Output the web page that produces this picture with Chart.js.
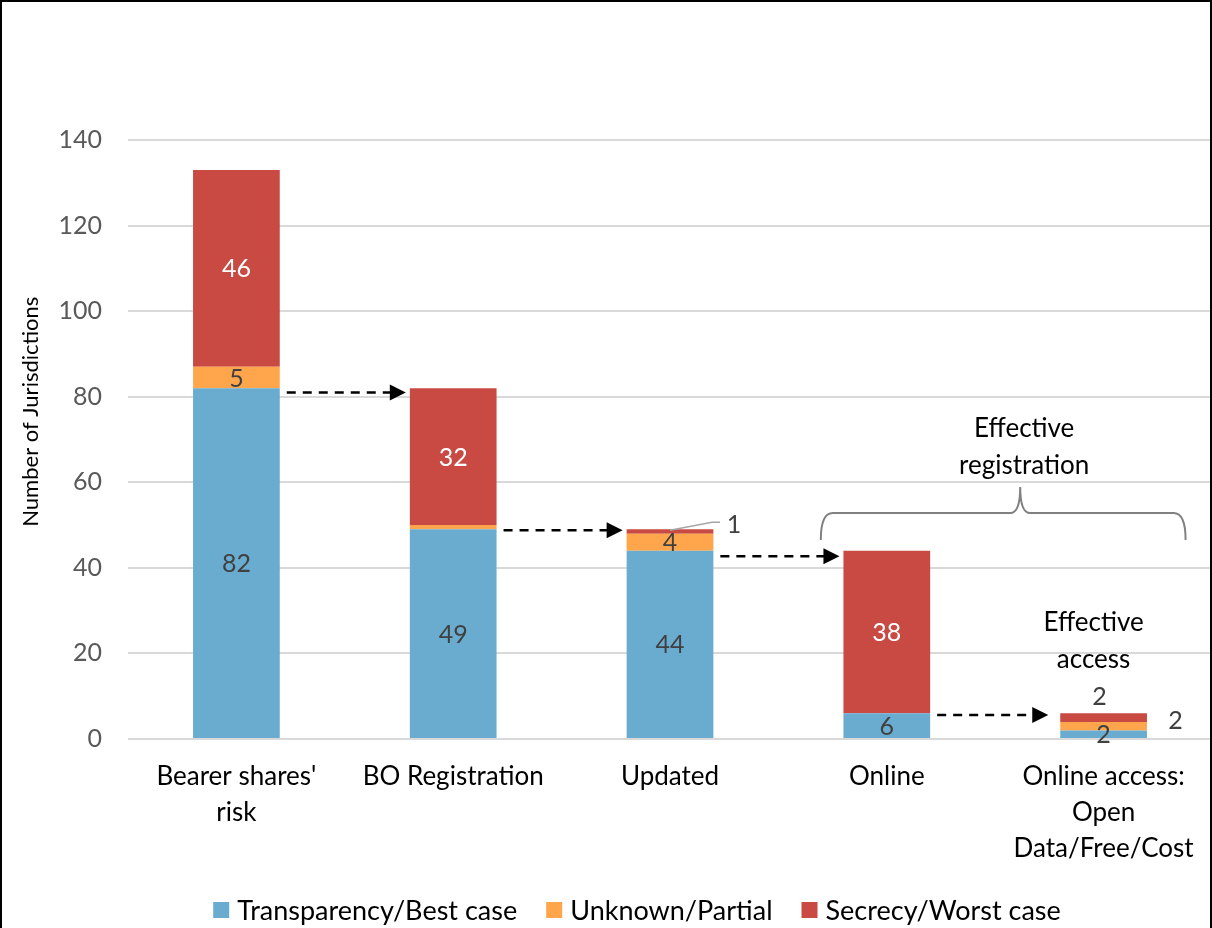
<!DOCTYPE html>
<html>
<head>
<meta charset="utf-8">
<script src="https://cdn.jsdelivr.net/npm/chart.js@4.4.1/dist/chart.umd.min.js"></script>
<style>
  html, body { margin: 0; padding: 0; background: #fff; }
  #wrap { width: 1212px; height: 928px; position: relative; }
</style>
</head>
<body>
<div id="wrap"><canvas id="chart"></canvas></div>
<script>
// data
const categories = [["Bearer shares'", "risk"], "BO Registration", "Updated", "Online", ["Online access:", "Open", "Data/Free/Cost"]];
const transparency = [82, 49, 44, 6, 2];
const unknown = [5, 1, 4, 0, 2];
const secrecy = [46, 32, 1, 38, 2];
const seriesNames = ["Transparency/Best case", "Unknown/Partial", "Secrecy/Worst case"];
const yMin = 0, yMax = 140, yStep = 20;
// level (in jurisdictions) of the dashed arrows between neighbouring bars
const arrowLevels = [81, 48.8, 42.7, 5.6];

const FONT = "Lato, 'Open Sans', sans-serif";
const colors = ["#6aacd0", "#ffa64d", "#c84a42"];

// labels inside the segments
const segLabels = {
  id: "segLabels",
  afterDatasetsDraw(chart) {
    const ctx = chart.ctx;
    ctx.save();
    ctx.font = "25px " + FONT;
    ctx.textAlign = "center";
    ctx.textBaseline = "middle";
    chart.data.datasets.forEach((ds, di) => {
      const meta = chart.getDatasetMeta(di);
      meta.data.forEach((bar, i) => {
        const v = ds.data[i];
        if (!v) return;
        if (di === 1 && i === 1) return; // too thin, no label
        const mid = (bar.y + bar.base) / 2;
        ctx.fillStyle = di === 2 ? "#ffffff" : "#404040";
        if (di === 2 && i === 2) {
          // leader line for the "1"
          ctx.strokeStyle = "#a6a6a6";
          ctx.lineWidth = 1.5;
          ctx.beginPath();
          ctx.moveTo(bar.x, bar.y + 1);
          ctx.lineTo(bar.x + 42, bar.y - 7);
          ctx.lineTo(bar.x + 50, bar.y - 7);
          ctx.stroke();
          ctx.fillStyle = "#404040";
          ctx.fillText(v, bar.x + 64, bar.y - 4);
        } else if (di === 2 && i === 4) {
          ctx.fillStyle = "#404040";
          ctx.fillText(v, bar.x - 4, bar.y - 16);
        } else if (di === 1 && i === 4) {
          ctx.fillText(v, bar.x + 72, mid - 5);
        } else {
          ctx.fillText(v, bar.x, mid + 1);
        }
      });
    });
    ctx.restore();
  }
};

// dashed arrows, brace, axis title, legend and text notes
const notes = {
  id: "notes",
  afterDatasetsDraw(chart) {
    const ctx = chart.ctx;
    const y = chart.scales.y;
    const metas = chart.getDatasetMeta(0).data;
    ctx.save();
    // arrows
    arrowLevels.forEach((lvl, i) => {
      const a = metas[i], b = metas[i + 1];
      const x0 = a.x + a.width / 2 + 7;
      const x1 = b.x - b.width / 2 - (i === 3 ? 12 : 4);
      const yy = y.getPixelForValue(lvl);
      ctx.strokeStyle = "#000";
      ctx.lineWidth = 2.5;
      ctx.setLineDash([9, 7]);
      ctx.beginPath();
      ctx.moveTo(x0, yy);
      ctx.lineTo(x1 - 14, yy);
      ctx.stroke();
      ctx.setLineDash([]);
      ctx.fillStyle = "#000";
      ctx.beginPath();
      ctx.moveTo(x1, yy);
      ctx.lineTo(x1 - 16, yy - 8);
      ctx.lineTo(x1 - 16, yy + 8);
      ctx.closePath();
      ctx.fill();
    });

    // brace over Online + Online access
    const bl = metas[3].x - 66, br = metas[4].x + 82;
    const bm = (bl + br) / 2 + 17;
    const yb = y.getPixelForValue(46.5), yl = y.getPixelForValue(52.8), yp = y.getPixelForValue(58.9);
    ctx.strokeStyle = "#808080";
    ctx.lineWidth = 2;
    ctx.beginPath();
    ctx.moveTo(bl, yb);
    ctx.quadraticCurveTo(bl, yl, bl + 12, yl);
    ctx.lineTo(bm - 10, yl);
    ctx.quadraticCurveTo(bm, yl, bm, yp);
    ctx.quadraticCurveTo(bm, yl, bm + 10, yl);
    ctx.lineTo(br - 12, yl);
    ctx.quadraticCurveTo(br, yl, br, yb);
    ctx.stroke();

    ctx.fillStyle = "#000";
    ctx.font = "26px " + FONT;
    ctx.textAlign = "center";
    ctx.textBaseline = "middle";
    ctx.fillText("Effective", bm + 4, y.getPixelForValue(72.6));
    ctx.fillText("registration", bm + 4, y.getPixelForValue(64));
    ctx.fillText("Effective", metas[4].x - 10, y.getPixelForValue(27.1));
    ctx.fillText("access", metas[4].x - 10, y.getPixelForValue(18.5));

    // legend
    ctx.font = "27px " + FONT;
    ctx.textAlign = "left";
    const widths = seriesNames.map((n) => ctx.measureText(n).width);
    const total = widths.reduce((s, w) => s + 16 + 8 + w, 0) + 29 * (seriesNames.length - 1);
    let lx = 637 - total / 2;
    const ly = 910;
    seriesNames.forEach((n, k) => {
      ctx.fillStyle = colors[k];
      ctx.fillRect(lx, ly - 8, 16, 16);
      ctx.fillStyle = "#000";
      ctx.fillText(n, lx + 24, ly + 1);
      lx += 24 + widths[k] + 29;
    });

    // y axis title
    ctx.textAlign = "center";
    ctx.font = "22px " + FONT;
    ctx.translate(31, y.getPixelForValue(76.5));
    ctx.rotate(-Math.PI / 2);
    ctx.fillText("Number of Jurisdictions", 0, 0);
    ctx.restore();
  }
};

const frame = {
  id: "frame",
  afterDraw(chart) {
    const ctx = chart.ctx;
    ctx.save();
    ctx.strokeStyle = "#000";
    ctx.lineWidth = 2;
    ctx.beginPath();
    ctx.moveTo(1, chart.height + 5);
    ctx.lineTo(1, 1);
    ctx.lineTo(chart.width - 1, 1);
    ctx.lineTo(chart.width - 1, chart.height + 5);
    ctx.stroke();
    ctx.restore();
  }
};

const datasets = [transparency, unknown, secrecy].map((vals, k) => ({
  label: seriesNames[k],
  data: vals,
  backgroundColor: colors[k],
  borderWidth: 0,
  categoryPercentage: 0.8,
  barPercentage: 0.5
}));

new Chart(document.getElementById("chart"), {
  type: "bar",
  data: { labels: categories, datasets: datasets },
  options: {
    responsive: true,
    maintainAspectRatio: false,
    animation: false,
    layout: { padding: { top: 140, right: 0, left: 0, bottom: 42 } },
    plugins: {
      tooltip: { enabled: false },
      legend: { display: false }
    },
    scales: {
      x: {
        stacked: true,
        grid: { display: false },
        border: { display: false },
        ticks: {
          font: { family: FONT, size: 26, lineHeight: 1.385 },
          color: "#000",
          padding: 12,
          maxRotation: 0,
          autoSkip: false
        },
        afterFit(scale) { scale.height = 147; }
      },
      y: {
        stacked: true,
        min: yMin,
        max: yMax,
        ticks: {
          stepSize: yStep,
          font: { family: FONT, size: 25 },
          color: "#595959",
          padding: 26
        },
        grid: { color: "#d9d9d9", lineWidth: 2, drawTicks: false },
        border: { display: false },
        afterFit(scale) { scale.width = 128; }
      }
    }
  },
  plugins: [segLabels, notes, frame]
});
</script>
</body>
</html>
